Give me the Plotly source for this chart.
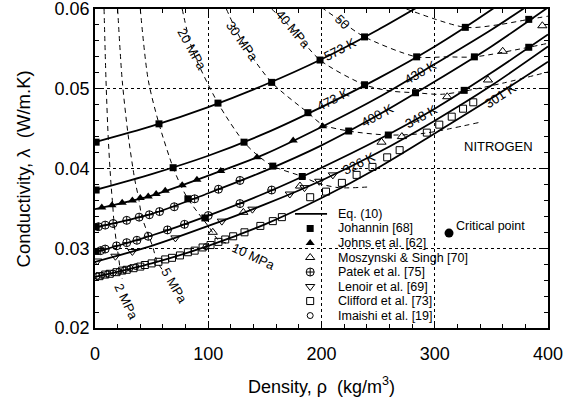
import plotly.graph_objects as go

# ---------------- data ----------------
rho_grid = [0, 50, 100, 150, 200, 250, 300, 350, 400]
iso_T = ["573 K", "473 K", "430 K", "400 K", "348 K", "326 K", "301 K"]
iso_lam = [
    [0.0433, 0.0453, 0.0477, 0.0505, 0.0537, 0.0574, 0.0615],
    [0.0373, 0.0393, 0.0416, 0.0444, 0.0477, 0.0513, 0.0553, 0.0599, 0.0650],
    [0.0349, 0.0366, 0.0391, 0.0418, 0.0452, 0.0489, 0.0531, 0.0574, 0.0621],
    [0.0326, 0.0343, 0.0369, 0.0397, 0.0429, 0.0467, 0.0509, 0.0553, 0.0602],
    [0.0295, 0.0316, 0.0341, 0.0369, 0.0401, 0.0436, 0.0475, 0.0520, 0.0568],
    [0.0283, 0.0303, 0.0328, 0.0355, 0.0385, 0.0420, 0.0460, 0.0504, 0.0553],
    [0.0264, 0.0281, 0.0303, 0.0330, 0.0363, 0.0401, 0.0444, 0.0488, 0.0534],
]
# isotherm label positions (rho, lambda, angle)
iso_lab_rho = [216, 210, 287, 249, 288, 233, 358]
iso_lab_lam = [0.0549, 0.0486, 0.0521, 0.0467, 0.0465, 0.0406, 0.0492]
iso_lab_ang = [-28, -27, -30, -28, -29, -26, -33]

# isobars (dashed)
isobar_rho = [
    [8, 9.7, 11.7, 14.2, 15.6, 16.8, 19.3, 20.6, 22.4, 24],
    [20, 24, 29, 35, 38.5, 41.3, 47.5, 50.7, 55, 60],
    [40, 47, 56.5, 69, 76, 82, 95, 101, 108.6, 119],
    [77, 86, 108.6, 131.6, 144, 157, 183, 196, 215, 243],
    [116, 130, 156, 188, 201, 224, 259, 290, 340],
    [156, 175, 198.7, 238, 262, 283, 305, 326, 360, 400],
    [200, 218, 238, 284, 310, 335, 383, 400],
    [275, 327, 355, 383, 400],
]
isobar_lam = [
    [0.0600, 0.0511, 0.0438, 0.0379, 0.0355, 0.0332, 0.0303, 0.0291, 0.0272, 0.0262],
    [0.0600, 0.0511, 0.0445, 0.0387, 0.0363, 0.0340, 0.0315, 0.0303, 0.0283, 0.0272],
    [0.0600, 0.0511, 0.0456, 0.0401, 0.0378, 0.0362, 0.0337, 0.0326, 0.0311, 0.0305],
    [0.0600, 0.0549, 0.0482, 0.0433, 0.0416, 0.0403, 0.0390, 0.0382, 0.0376, 0.0377],
    [0.0600, 0.0559, 0.0508, 0.0470, 0.0455, 0.0447, 0.0442, 0.0444, 0.0458],
    [0.0600, 0.0574, 0.0536, 0.0505, 0.0497, 0.0495, 0.0493, 0.0497, 0.0507, 0.0521],
    [0.0602, 0.0584, 0.0565, 0.0540, 0.0540, 0.0540, 0.0552, 0.0557],
    [0.0600, 0.0577, 0.0580, 0.0587, 0.0591],
]
isobar_labels = ["2 MPa", "5 MPa", "10 MPa", "20 MPa", "30 MPa", "40 MPa", "50"]
isobar_lab_rho = [27.4, 69.8, 140, 85.7, 130, 175, 218]
isobar_lab_lam = [0.0233, 0.0253, 0.0290, 0.0549, 0.0559, 0.0574, 0.0584]
isobar_lab_ang = [65, 60, 25, 61, 55, 50, 45]

# experimental data sets
johannin_rho = [1, 56.5, 108.6, 156, 198.7, 238,
                1, 69, 131.6, 188, 238, 284, 327,
                1, 82, 157, 224, 283, 335, 383,
                1, 97, 183, 259, 326, 383]
johannin_lam = [0.0433, 0.0456, 0.0482, 0.0508, 0.0536, 0.0565,
                0.0373, 0.0401, 0.0433, 0.0470, 0.0505, 0.0540, 0.0577,
                0.0327, 0.0362, 0.0403, 0.0447, 0.0495, 0.0540, 0.0587,
                0.0296, 0.0338, 0.0390, 0.0442, 0.0498, 0.0552]

johns_rho = [6, 15, 24, 33, 40, 47, 54, 62, 77, 90, 111, 143, 175, 201]
johns_lam = [0.0351, 0.0354, 0.0357, 0.0360, 0.0363, 0.0365, 0.0368, 0.0372,
             0.0379, 0.0386, 0.0397, 0.0414, 0.0435, 0.0453]

mosz_rho = [104, 131, 181, 253, 271, 311, 347, 360, 395]
mosz_lam = [0.0320, 0.0345, 0.0378, 0.0433, 0.0440, 0.0490, 0.0511, 0.0547, 0.0579]

patek_rho = [3, 9, 16, 28, 39, 48, 57, 70, 88, 109, 128,
             5, 9, 19, 28, 37, 47, 64, 79, 100, 128, 156]
patek_lam = [0.0327, 0.0329, 0.0331, 0.0335, 0.0339, 0.0342, 0.0346, 0.0352, 0.0362, 0.0374, 0.0385,
             0.0297, 0.0299, 0.0303, 0.0307, 0.0310, 0.0315, 0.0323, 0.0330, 0.0341, 0.0356, 0.0373]

lenoir_rho = [2, 18, 33, 71, 112, 139, 172, 185, 198, 210]
lenoir_lam = [0.0284, 0.0290, 0.0296, 0.0313, 0.0334, 0.0349, 0.0368, 0.0376, 0.0384, 0.0392]

clifford_rho = [4, 9, 13, 19, 24, 28, 34, 40, 44, 50, 56, 62, 68, 75, 82, 88, 95, 102,
                109, 115, 122, 132, 146, 157, 165, 190, 204, 218, 231, 245, 258, 269,
                293, 304, 315, 325, 334]
clifford_lam = [0.0265, 0.0267, 0.0268, 0.0270, 0.0272, 0.0273, 0.0275, 0.0277, 0.0279,
                0.0281, 0.0283, 0.0286, 0.0288, 0.0291, 0.0295, 0.0297, 0.0301, 0.0304,
                0.0308, 0.0311, 0.0315, 0.0320, 0.0328, 0.0334, 0.0339, 0.0364, 0.0371,
                0.0382, 0.0392, 0.0402, 0.0414, 0.0423, 0.0445, 0.0455, 0.0465, 0.0475,
                0.0483]

imaishi_rho = [2, 6, 11, 16, 21, 26, 31, 36, 98]
imaishi_lam = [0.0265, 0.0266, 0.0268, 0.0269, 0.0271, 0.0273, 0.0275, 0.0277, 0.0302]

crit_rho = [312.6]
crit_lam = [0.0319]

x_ticks = [0, 100, 200, 300, 400]
y_ticks = [0.02, 0.03, 0.04, 0.05, 0.06]
y_ticktext = ["0.02", "0.03", "0.04", "0.05", "0.06"]

legend_names = ["Eq. (10)", "Johannin [68]", "Johns et al. [62]", "Moszynski & Singh [70]",
                "Patek et al. [75]", "Lenoir et al. [69]", "Clifford et al. [73]",
                "Imaishi et al. [19]"]

# ---------------- styles ----------------
FONT = "Liberation Sans, Arial, Helvetica, sans-serif"
BLACK = "black"
sym_styles = [
    dict(symbol="square", size=7, color=BLACK),
    dict(symbol="triangle-up", size=8, color=BLACK),
    dict(symbol="triangle-up-open", size=8, color=BLACK, line=dict(width=1, color=BLACK)),
    dict(symbol="circle-cross-open", size=8, color=BLACK, line=dict(width=1, color=BLACK)),
    dict(symbol="triangle-down-open", size=8, color=BLACK, line=dict(width=1, color=BLACK)),
    dict(symbol="square-open", size=7, color=BLACK, line=dict(width=1, color=BLACK)),
    dict(symbol="circle-open", size=6, color=BLACK, line=dict(width=1, color=BLACK)),
]
datasets = [
    (johannin_rho, johannin_lam),
    (johns_rho, johns_lam),
    (mosz_rho, mosz_lam),
    (patek_rho, patek_lam),
    (lenoir_rho, lenoir_lam),
    (clifford_rho, clifford_lam),
    (imaishi_rho, imaishi_lam),
]

fig = go.Figure()

# isobars
for xs, ys in zip(isobar_rho, isobar_lam):
    fig.add_trace(go.Scatter(x=xs, y=ys, mode="lines", showlegend=False, hoverinfo="skip",
                             line=dict(color=BLACK, width=1, dash="5px,4px", shape="spline",
                                       smoothing=0.8)))

# isotherms
for lam in iso_lam:
    fig.add_trace(go.Scatter(x=rho_grid[:len(lam)], y=lam, mode="lines", showlegend=False,
                             line=dict(color=BLACK, width=1.8, shape="spline", smoothing=0.8)))

# data markers
for (xs, ys), st in zip(datasets, sym_styles):
    fig.add_trace(go.Scatter(x=xs, y=ys, mode="markers", showlegend=False, marker=st,
                             cliponaxis=True))

# critical point
fig.add_trace(go.Scatter(x=crit_rho, y=crit_lam, mode="markers", showlegend=False,
                         marker=dict(symbol="circle", size=9, color=BLACK)))

# --------- manual legend (layout positions) ---------
leg_top = 0.0343
leg_step = 0.00182
leg_line_x = [176.6, 204.9]
leg_mark_x = 190
leg_text_x = 212.8
fig.add_trace(go.Scatter(x=leg_line_x, y=[leg_top, leg_top], mode="lines", showlegend=False,
                         line=dict(color=BLACK, width=1.8), hoverinfo="skip"))
for i, st in enumerate(sym_styles):
    fig.add_trace(go.Scatter(x=[leg_mark_x], y=[leg_top - (i + 1) * leg_step], mode="markers",
                             showlegend=False, marker=st, hoverinfo="skip"))

annotations = []
for i, name in enumerate(legend_names):
    annotations.append(dict(x=leg_text_x, y=leg_top - i * leg_step, text=name, showarrow=False,
                            xanchor="left", yanchor="middle",
                            font=dict(family=FONT, size=12.5, color=BLACK)))

for t, x, y, a in zip(iso_T, iso_lab_rho, iso_lab_lam, iso_lab_ang):
    annotations.append(dict(x=x, y=y, text=t, showarrow=False, textangle=a,
                            xanchor="center", yanchor="middle",
                            font=dict(family=FONT, size=13, color=BLACK)))
for t, x, y, a in zip(isobar_labels, isobar_lab_rho, isobar_lab_lam, isobar_lab_ang):
    annotations.append(dict(x=x, y=y, text=t, showarrow=False, textangle=a,
                            xanchor="center", yanchor="middle",
                            font=dict(family=FONT, size=13, color=BLACK)))

annotations.append(dict(x=356, y=0.0428, text="NITROGEN", showarrow=False,
                        font=dict(family=FONT, size=13, color=BLACK)))
annotations.append(dict(x=317, y=0.0328, text="Critical point", showarrow=False,
                        xanchor="left", yanchor="middle",
                        font=dict(family=FONT, size=12.5, color=BLACK)))
# axis titles
annotations.append(dict(xref="paper", yref="paper", x=0.5, y=-0.179,
                        text="Density, \u03c1  (kg/m<sup>3</sup>)", showarrow=False,
                        xanchor="center", yanchor="middle",
                        font=dict(family=FONT, size=18, color=BLACK)))
annotations.append(dict(xref="paper", yref="paper", x=-0.157, y=0.5,
                        text="Conductivity, \u03bb  (W/m.K)", showarrow=False, textangle=-90,
                        xanchor="center", yanchor="middle",
                        font=dict(family=FONT, size=18.5, color=BLACK)))

axis_common = dict(showline=True, linecolor=BLACK, linewidth=1.5, mirror="allticks",
                   ticks="inside", ticklen=7, tickwidth=1, tickcolor=BLACK,
                   showgrid=True, gridcolor=BLACK, gridwidth=1, griddash="dot",
                   zeroline=False, automargin=False, tickmode="array",
                   ticklabeloverflow="allow",
                   tickfont=dict(family=FONT, size=18, color=BLACK))

fig.update_layout(
    width=581, height=403,
    margin=dict(l=95, r=33, t=9, b=75, autoexpand=False),
    paper_bgcolor="white", plot_bgcolor="white",
    showlegend=False,
    xaxis=dict(range=[0, 400], tickvals=x_ticks, ticktext=[str(v) for v in x_ticks],
               ticklabelstandoff=9,
               minor=dict(dtick=20, tick0=0, ticks="inside", ticklen=4, tickcolor=BLACK,
                          showgrid=False),
               **axis_common),
    yaxis=dict(range=[0.02, 0.06], tickvals=y_ticks, ticktext=y_ticktext,
               minor=dict(dtick=0.002, tick0=0.02, ticks="inside", ticklen=4, tickcolor=BLACK,
                          showgrid=False),
               **axis_common),
    annotations=annotations,
)

fig.write_html("out.html", config={"displayModeBar": False},
               post_script="document.body.style.margin='0';document.body.style.padding='0';")
